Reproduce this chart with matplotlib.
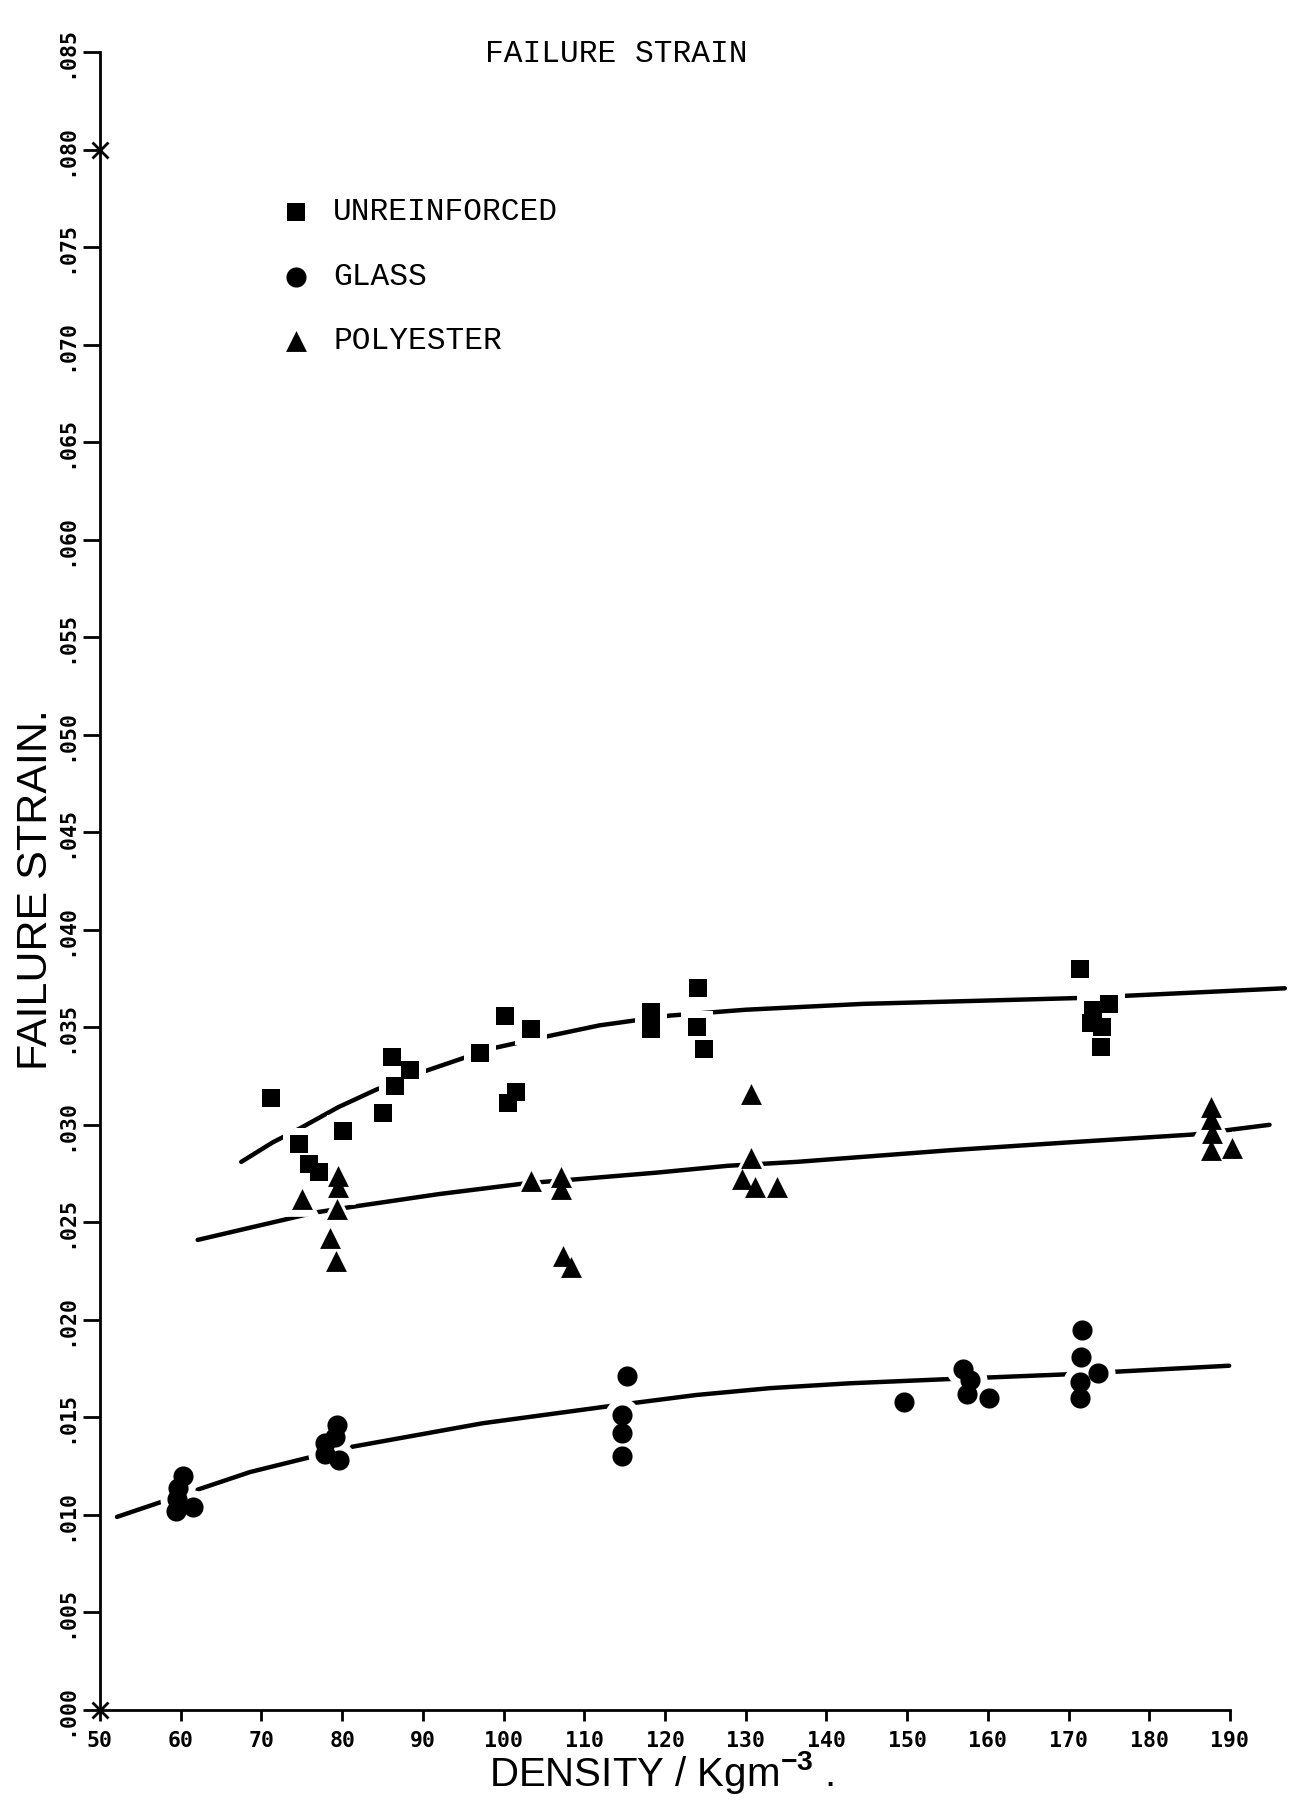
import matplotlib
matplotlib.use("Agg")
import matplotlib.pyplot as plt

# ---- measured failure strain vs foam density ----
unr_density = [71.2, 74.6, 75.9, 77.1, 80.1, 85.0, 86.2, 86.5, 88.4, 97.1,
               100.2, 100.6, 101.5, 103.4, 118.3, 118.3, 124.1, 124.0, 124.8,
               171.4, 175.0, 173.0, 172.8, 174.1, 174.0]
unr_strain = [0.0314, 0.0290, 0.0280, 0.0276, 0.0297, 0.0306, 0.0335, 0.0320, 0.0328, 0.0337,
              0.0356, 0.0311, 0.0317, 0.0349, 0.0358, 0.0349, 0.0370, 0.0350, 0.0339,
              0.0380, 0.0362, 0.0359, 0.0352, 0.0350, 0.0340]

gls_density = [60.3, 59.7, 59.5, 59.4, 61.5, 79.4, 79.1, 77.9, 77.9, 79.6,
               115.3, 114.7, 114.7, 114.7, 149.6, 156.9, 157.8, 157.4, 160.1,
               171.7, 171.6, 173.6, 171.4, 171.4]
gls_strain = [0.0120, 0.0114, 0.0108, 0.0102, 0.0104, 0.0146, 0.0140, 0.0137, 0.0131, 0.0128,
              0.0171, 0.0151, 0.0142, 0.0130, 0.0158, 0.0175, 0.0169, 0.0162, 0.0160,
              0.0195, 0.0181, 0.0173, 0.0168, 0.0160]

pol_density = [75.0, 79.5, 79.5, 79.4, 78.5, 79.2, 103.4, 107.1, 107.1, 107.4, 108.3,
               130.7, 130.7, 129.6, 131.1, 133.9, 187.7, 187.7, 187.8, 187.6, 190.3]
pol_strain = [0.0262, 0.0274, 0.0268, 0.0257, 0.0242, 0.0230, 0.0271, 0.0273, 0.0267, 0.0233, 0.0227,
              0.0316, 0.0283, 0.0272, 0.0268, 0.0268, 0.0309, 0.0303, 0.0296, 0.0287, 0.0288]

# ---- hand-drawn trend curves ----
unr_curve_x = [67.5, 71.4, 74.7, 79.5, 84.2, 89.9, 98.4, 105.0, 111.9, 120.6, 130.0, 144.5, 158.0, 171.2, 184.0, 196.8]
unr_curve_y = [0.0281, 0.0291, 0.0298, 0.0309, 0.0318, 0.0327, 0.0339, 0.0345, 0.0351, 0.0356, 0.0359,
               0.03620, 0.03635, 0.0365, 0.03675, 0.0370]
pol_curve_x = [62.1, 76.6, 81.3, 92.0, 102.7, 108.8, 119.0, 127.8, 136.3, 155.4, 170.0, 185.3, 194.9]
pol_curve_y = [0.0241, 0.0255, 0.0258, 0.02645, 0.0270, 0.0272, 0.02755, 0.0279, 0.0281, 0.0287,
               0.0291, 0.0295, 0.0300]
gls_curve_x = [52.1, 61.4, 68.6, 81.3, 97.4, 113.5, 123.9, 133.0, 142.9, 156.0, 169.3, 189.9]
gls_curve_y = [0.0099, 0.0112, 0.0122, 0.0135, 0.0147, 0.0156, 0.01615, 0.0165, 0.01675, 0.01698,
               0.0172, 0.01765]

# ---- axes ticks ----
x_ticks = list(range(50, 191, 10))
y_ticks = [i * 0.005 for i in range(18)]
y_tick_labels = [".%03d" % round(v * 1000) for v in y_ticks]
registration_marks = [(50, 0.0), (50, 0.080)]

legend_labels = ["UNREINFORCED", "GLASS", "POLYESTER"]

W, H = 1289, 1800
fig = plt.figure(figsize=(W / 100, H / 100), dpi=100)
fig.patch.set_facecolor("white")
ax = fig.add_axes([100 / W, 1 - 1710 / H, 1130 / W, (1710 - 52) / H])
ax.set_xlim(50, 190)
ax.set_ylim(0, 0.085)

for s in ("top", "right"):
    ax.spines[s].set_visible(False)
for s in ("left", "bottom"):
    ax.spines[s].set_linewidth(2.0)

tick_font = dict(family="DejaVu Sans Mono", weight="bold", size=15.5)
ax.set_xticks(x_ticks)
ax.set_xticklabels([str(v) for v in x_ticks], fontdict=tick_font)
ax.set_yticks(y_ticks)
ax.set_yticklabels(y_tick_labels, fontdict=tick_font)
for lab in ax.get_yticklabels():
    lab.set_rotation(90)
    lab.set_va("center")
ax.tick_params(axis="x", direction="out", length=8, width=2, pad=7)
ax.tick_params(axis="y", direction="out", length=12, width=2, pad=5)

for mx, my in registration_marks:
    ax.plot(mx, my, marker="x", ms=11, mew=2, color="black", clip_on=False, zorder=6)

# trend curves
curve_kw = dict(color="black", lw=3.2, solid_capstyle="round", clip_on=False, zorder=2)
ax.plot(unr_curve_x, unr_curve_y, **curve_kw)
ax.plot(pol_curve_x, pol_curve_y, **curve_kw)
ax.plot(gls_curve_x, gls_curve_y, **curve_kw)

# markers with a white surround so the curves break where they pass
series = [
    (unr_density, unr_strain, "s", 13.0),
    (gls_density, gls_strain, "o", 14.5),
    (pol_density, pol_strain, "^", 15.0),
]
for xs, ys, mk, ms in series:
    ax.scatter(xs, ys, marker=mk, s=(ms + 10) ** 2, color="white", linewidths=0,
               clip_on=False, zorder=3)
for xs, ys, mk, ms in series:
    ax.scatter(xs, ys, marker=mk, s=ms ** 2, color="black", linewidths=0,
               clip_on=False, zorder=4)

# legend
leg_rows = [0.9035, 0.8643, 0.8257]
for (xs, ys, mk, ms), lab, yr in zip(series, legend_labels, leg_rows):
    ax.scatter([0.1735], [yr], marker=mk, s=ms ** 2, color="black", linewidths=0,
               transform=ax.transAxes, clip_on=False, zorder=4)
    ax.text(0.2062, yr, lab, transform=ax.transAxes, ha="left", va="center",
            family="Liberation Mono", size=22.5)

# titles
fig.text(616 / W, 1 - 54 / H, "FAILURE STRAIN", ha="center", va="center",
         family="Liberation Mono", size=22.5)

plt.rcParams["mathtext.fontset"] = "custom"
plt.rcParams["mathtext.bf"] = "Liberation Sans:bold"
plt.rcParams["mathtext.rm"] = "Liberation Sans"
fig.text(662 / W, 1 - 1772 / H, r"DENSITY / Kgm$^{\mathbf{-3}}$ .", ha="center", va="center",
         family="Liberation Sans", size=29)
fig.text(36 / W, 1 - 890 / H, "FAILURE STRAIN.", ha="center", va="center", rotation=90,
         family="Liberation Sans", size=31)

fig.savefig("out.png", dpi=100, facecolor="white")
